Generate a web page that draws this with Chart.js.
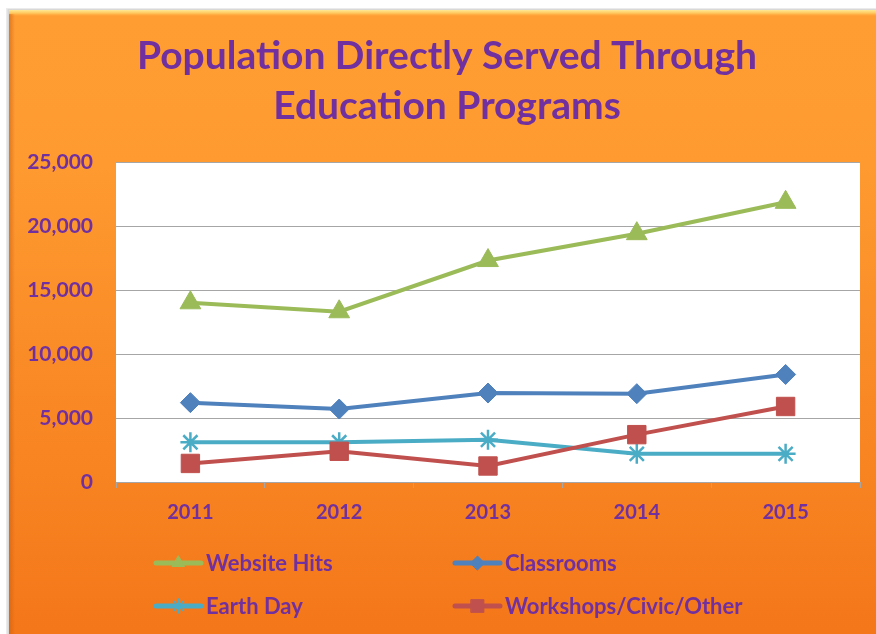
<!DOCTYPE html>
<html>
<head>
<meta charset="utf-8">
<script src="https://cdn.jsdelivr.net/npm/chart.js@4/dist/chart.umd.min.js"></script>
<style>
  html, body { margin: 0; padding: 0; background: #ffffff; }
  canvas { display: block; }
</style>
</head>
<body>
<canvas id="c" width="876" height="634"></canvas>
<script>
// ---- data ----
const categories = ['2011', '2012', '2013', '2014', '2015'];
const websiteHits = [14000, 13300, 17300, 19400, 21850];
const classrooms = [6200, 5700, 6950, 6900, 8400];
const earthDay = [3100, 3100, 3300, 2200, 2200];
const workshops = [1450, 2400, 1250, 3700, 5900];
const yTicks = [0, 5000, 10000, 15000, 20000, 25000];
const titleLines = ['Population Directly Served Through', 'Education Programs'];
const seriesNames = ['Website Hits', 'Classrooms', 'Earth Day', 'Workshops/Civic/Other'];

const PURPLE = '#7030A0';
const FONT = 'Lato, "Open Sans", sans-serif';
const colors = ['#9BBB59', '#4F81BD', '#4BACC6', '#C0504D'];
const styles = ['triangle', 'rectRot', 'star', 'rect'];
const radii = [12, 10, 10, 13];
const pBorder = [1, 1, 2.5, 1];
const legendRadii = [7, 7, 7, 9];

const bgPlugin = {
  id: 'bg',
  beforeDraw(chart) {
    const ctx = chart.ctx, W = chart.width, H = chart.height;
    ctx.save();
    ctx.fillStyle = '#ffffff';
    ctx.fillRect(0, 0, W, H);
    ctx.fillStyle = 'rgba(0,0,0,0.08)';
    ctx.fillRect(6, 8, W, H);
    ctx.fillStyle = 'rgba(0,0,0,0.08)';
    ctx.fillRect(7.5, 9, W, H);
    const g = ctx.createLinearGradient(0, 10, 0, H);
    g.addColorStop(0, '#FF9D33');
    g.addColorStop(0.25, '#FE9A30');
    g.addColorStop(1, '#F47719');
    ctx.fillStyle = g;
    ctx.fillRect(9, 10, W - 9, H - 10);
    const gt = ctx.createLinearGradient(0, 10, 0, 16);
    gt.addColorStop(0, 'rgba(255,232,150,1)');
    gt.addColorStop(0.5, 'rgba(255,214,110,0.8)');
    gt.addColorStop(1, 'rgba(255,190,80,0)');
    ctx.fillStyle = gt;
    ctx.fillRect(9, 10, W - 9, 6);
    const gl = ctx.createLinearGradient(9, 0, 15, 0);
    gl.addColorStop(0, 'rgba(200,90,10,0.55)');
    gl.addColorStop(1, 'rgba(200,90,10,0)');
    ctx.fillStyle = gl;
    ctx.fillRect(9, 14, 6, H - 14);
    const a = chart.chartArea;
    ctx.fillStyle = '#ffffff';
    ctx.fillRect(a.left, a.top, a.right - a.left, a.bottom - a.top);
    ctx.restore();
  },
  afterDraw(chart) {
    const ctx = chart.ctx;
    ctx.save();
    ctx.fillStyle = PURPLE;
    ctx.font = 'bold 39px ' + FONT;
    ctx.textAlign = 'center';
    ctx.textBaseline = 'alphabetic';
    ctx.fillText(titleLines[0], 447, 69);
    ctx.fillText(titleLines[1], 447, 119);
    const cols = [154, 453];
    const rows = [563, 606];
    ctx.font = 'bold 22px ' + FONT;
    ctx.textAlign = 'left';
    ctx.textBaseline = 'middle';
    chart.data.datasets.forEach((ds, i) => {
      const x0 = cols[i % 2], y = rows[Math.floor(i / 2)];
      ctx.strokeStyle = ds.borderColor;
      ctx.lineWidth = 5;
      ctx.lineCap = 'round';
      ctx.beginPath();
      ctx.moveTo(x0 + 2, y);
      ctx.lineTo(x0 + 47, y);
      ctx.stroke();
      ctx.fillStyle = ds.borderColor;
      ctx.strokeStyle = ds.borderColor;
      ctx.lineWidth = i === 2 ? 1.5 : 1;
      Chart.helpers.drawPoint(ctx, { pointStyle: ds.pointStyle, radius: legendRadii[i], rotation: 0, borderWidth: ctx.lineWidth }, x0 + 24.5, y);
      ctx.fillStyle = PURPLE;
      ctx.fillText(ds.label, x0 + 52, y + 1);
    });
    ctx.restore();
  }
};

const seriesData = [websiteHits, classrooms, earthDay, workshops];
const datasets = seriesData.map((d, i) => ({
  label: seriesNames[i],
  data: d,
  borderColor: colors[i],
  backgroundColor: colors[i],
  pointBackgroundColor: colors[i],
  pointBorderColor: colors[i],
  pointStyle: styles[i],
  pointRadius: radii[i],
  pointBorderWidth: pBorder[i],
  borderWidth: 4,
  tension: 0,
  order: 3 - i
}));

new Chart(document.getElementById('c'), {
  type: 'line',
  data: { labels: categories, datasets },
  options: {
    responsive: false,
    animation: false,
    devicePixelRatio: 1,
    layout: { padding: { top: 162, right: 16, bottom: 0, left: 0 } },
    plugins: { legend: { display: false }, title: { display: false }, tooltip: { enabled: false } },
    scales: {
      x: {
        offset: true,
        grid: { offset: true, drawOnChartArea: false, drawTicks: true, tickLength: 6, color: '#A6A6A6' },
        border: { display: true, color: '#A6A6A6', width: 1 },
        ticks: { color: PURPLE, font: { family: FONT, weight: 'bold', size: 20 }, padding: 13 },
        afterFit(s) { s.height = 152; }
      },
      y: {
        min: 0, max: 25000,
        afterBuildTicks(s) { s.ticks = yTicks.map(v => ({ value: v })); },
        grid: { color: '#A6A6A6', lineWidth: 1, drawTicks: false },
        border: { display: false },
        ticks: {
          color: PURPLE, font: { family: FONT, weight: 'bold', size: 21 }, padding: 23,
          callback: v => v.toLocaleString('en-US')
        },
        afterFit(s) { s.width = 116; }
      }
    }
  },
  plugins: [bgPlugin]
});
</script>
</body>
</html>
